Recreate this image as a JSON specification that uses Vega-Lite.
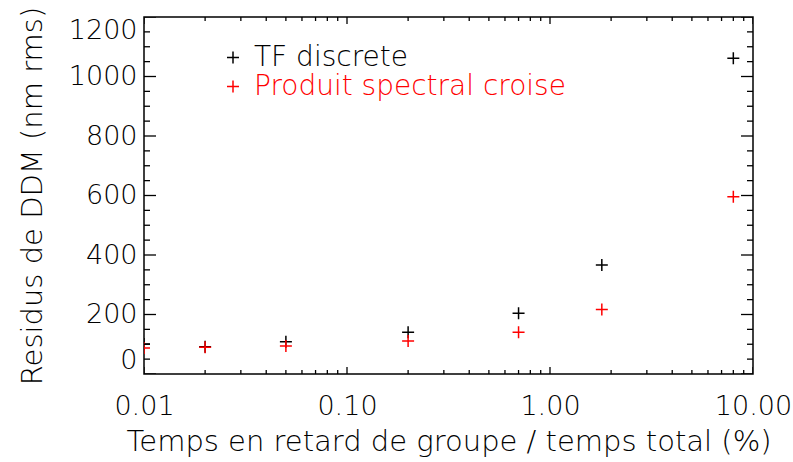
{
  "$schema": "https://vega.github.io/schema/vega-lite/v6.json",
  "width": 609,
  "height": 357,
  "autosize": "none",
  "padding": {"left": 144, "top": 17, "right": 40, "bottom": 88},
  "background": "white",
  "config": {
    "view": {"stroke": "black", "strokeWidth": 1.5},
    "axis": {
      "labelFont": "DejaVu Sans",
      "titleFont": "DejaVu Sans",
      "labelColor": "black",
      "titleColor": "black",
      "domain": false,
      "ticks": false,
      "grid": false,
      "labelFontWeight": 200,
      "titleFontWeight": 200,
      "labelFontSize": 27,
      "titleFontSize": 29
    }
  },
  "datasets": {
    "points": [
      {"x": 0.01, "y": 101, "series": "TF discrete"},
      {"x": 0.02, "y": 92, "series": "TF discrete"},
      {"x": 0.05, "y": 108, "series": "TF discrete"},
      {"x": 0.2, "y": 140, "series": "TF discrete"},
      {"x": 0.7, "y": 204, "series": "TF discrete"},
      {"x": 1.8, "y": 366, "series": "TF discrete"},
      {"x": 8, "y": 1061, "series": "TF discrete"},
      {"x": 0.01, "y": 87, "series": "Produit spectral croise"},
      {"x": 0.02, "y": 90, "series": "Produit spectral croise"},
      {"x": 0.05, "y": 94, "series": "Produit spectral croise"},
      {"x": 0.2, "y": 111, "series": "Produit spectral croise"},
      {"x": 0.7, "y": 140, "series": "Produit spectral croise"},
      {"x": 1.8, "y": 217, "series": "Produit spectral croise"},
      {"x": 8, "y": 596, "series": "Produit spectral croise"}
    ],
    "ymajor": [{"v": 0}, {"v": 200}, {"v": 400}, {"v": 600}, {"v": 800}, {"v": 1000}, {"v": 1200}],
    "yminor": [{"v": 50}, {"v": 100}, {"v": 150}, {"v": 250}, {"v": 300}, {"v": 350}, {"v": 450}, {"v": 500}, {"v": 550}, {"v": 650}, {"v": 700}, {"v": 750}, {"v": 850}, {"v": 900}, {"v": 950}, {"v": 1050}, {"v": 1100}, {"v": 1150}],
    "xmajor": [{"v": 0.01}, {"v": 0.1}, {"v": 1}, {"v": 10}],
    "xminor": [{"v": 0.02}, {"v": 0.03}, {"v": 0.04}, {"v": 0.05}, {"v": 0.06}, {"v": 0.07}, {"v": 0.08}, {"v": 0.09}, {"v": 0.2}, {"v": 0.3}, {"v": 0.4}, {"v": 0.5}, {"v": 0.6}, {"v": 0.7}, {"v": 0.8}, {"v": 0.9}, {"v": 2}, {"v": 3}, {"v": 4}, {"v": 5}, {"v": 6}, {"v": 7}, {"v": 8}, {"v": 9}]
  },
  "layer": [
    {
      "data": {"name": "points"},
      "mark": {"type": "point", "shape": "M-1,0H1M0,-1V1", "filled": false, "size": 144, "strokeWidth": 1.5, "opacity": 1, "clip": true},
      "encoding": {
        "x": {
          "field": "x", "type": "quantitative",
          "title": "Temps en retard de groupe / temps total (%)",
          "scale": {"type": "log", "domain": [0.01, 10]},
          "axis": {
            "orient": "bottom",
            "values": [0.01, 0.1, 1, 10],
            "format": ".2f",
            "labelPadding": 19,
            "labelFlush": false,
            "labelOverlap": false,
            "titlePadding": 8
          }
        },
        "y": {
          "field": "y", "type": "quantitative",
          "title": "Residus de DDM (nm rms)",
          "scale": {"domain": [0, 1200]},
          "axis": {
            "orient": "left",
            "values": [0, 200, 400, 600, 800, 1000, 1200],
            "format": "d",
            "labelPadding": 7,
            "labelFlush": true,
            "labelOverlap": false,
            "titlePadding": 21
          }
        },
        "color": {
          "field": "series", "type": "nominal",
          "scale": {"domain": ["TF discrete", "Produit spectral croise"], "range": ["black", "red"]},
          "legend": {
            "orient": "none",
            "legendX": 75,
            "legendY": 27,
            "title": null,
            "symbolType": "M-1,0H1M0,-1V1",
            "symbolSize": 144,
            "symbolStrokeWidth": 1.5,
            "symbolFillColor": "transparent",
            "labelFont": "DejaVu Sans",
            "labelFontSize": 28,
            "labelFontWeight": 200,
            "labelColor": {"expr": "datum.value === 'TF discrete' ? 'black' : 'red'"},
            "labelOffset": 7,
            "clipHeight": 27,
            "rowPadding": 0,
            "labelLimit": 600
          }
        }
      }
    },
    {
      "data": {"name": "ymajor"},
      "mark": {"type": "tick", "orient": "horizontal", "size": 24, "thickness": 1.3, "color": "black", "opacity": 1, "clip": true},
      "encoding": {"y": {"field": "v", "type": "quantitative", "title": "Residus de DDM (nm rms)"}, "x": {"datum": 0.01, "type": "quantitative", "title": "Temps en retard de groupe / temps total (%)"}}
    },
    {
      "data": {"name": "ymajor"},
      "mark": {"type": "tick", "orient": "horizontal", "size": 24, "thickness": 1.3, "color": "black", "opacity": 1, "clip": true},
      "encoding": {"y": {"field": "v", "type": "quantitative", "title": "Residus de DDM (nm rms)"}, "x": {"datum": 10, "type": "quantitative", "title": "Temps en retard de groupe / temps total (%)"}}
    },
    {
      "data": {"name": "yminor"},
      "mark": {"type": "tick", "orient": "horizontal", "size": 12, "thickness": 1.3, "color": "black", "opacity": 1, "clip": true},
      "encoding": {"y": {"field": "v", "type": "quantitative", "title": "Residus de DDM (nm rms)"}, "x": {"datum": 0.01, "type": "quantitative", "title": "Temps en retard de groupe / temps total (%)"}}
    },
    {
      "data": {"name": "yminor"},
      "mark": {"type": "tick", "orient": "horizontal", "size": 12, "thickness": 1.3, "color": "black", "opacity": 1, "clip": true},
      "encoding": {"y": {"field": "v", "type": "quantitative", "title": "Residus de DDM (nm rms)"}, "x": {"datum": 10, "type": "quantitative", "title": "Temps en retard de groupe / temps total (%)"}}
    },
    {
      "data": {"name": "xmajor"},
      "mark": {"type": "tick", "orient": "vertical", "size": 14, "thickness": 1.3, "color": "black", "opacity": 1, "clip": true},
      "encoding": {"x": {"field": "v", "type": "quantitative", "title": "Temps en retard de groupe / temps total (%)"}, "y": {"datum": 0, "type": "quantitative", "title": "Residus de DDM (nm rms)"}}
    },
    {
      "data": {"name": "xmajor"},
      "mark": {"type": "tick", "orient": "vertical", "size": 14, "thickness": 1.3, "color": "black", "opacity": 1, "clip": true},
      "encoding": {"x": {"field": "v", "type": "quantitative", "title": "Temps en retard de groupe / temps total (%)"}, "y": {"datum": 1200, "type": "quantitative", "title": "Residus de DDM (nm rms)"}}
    },
    {
      "data": {"name": "xminor"},
      "mark": {"type": "tick", "orient": "vertical", "size": 8, "thickness": 1.3, "color": "black", "opacity": 1, "clip": true},
      "encoding": {"x": {"field": "v", "type": "quantitative", "title": "Temps en retard de groupe / temps total (%)"}, "y": {"datum": 0, "type": "quantitative", "title": "Residus de DDM (nm rms)"}}
    },
    {
      "data": {"name": "xminor"},
      "mark": {"type": "tick", "orient": "vertical", "size": 8, "thickness": 1.3, "color": "black", "opacity": 1, "clip": true},
      "encoding": {"x": {"field": "v", "type": "quantitative", "title": "Temps en retard de groupe / temps total (%)"}, "y": {"datum": 1200, "type": "quantitative", "title": "Residus de DDM (nm rms)"}}
    }
  ]
}
